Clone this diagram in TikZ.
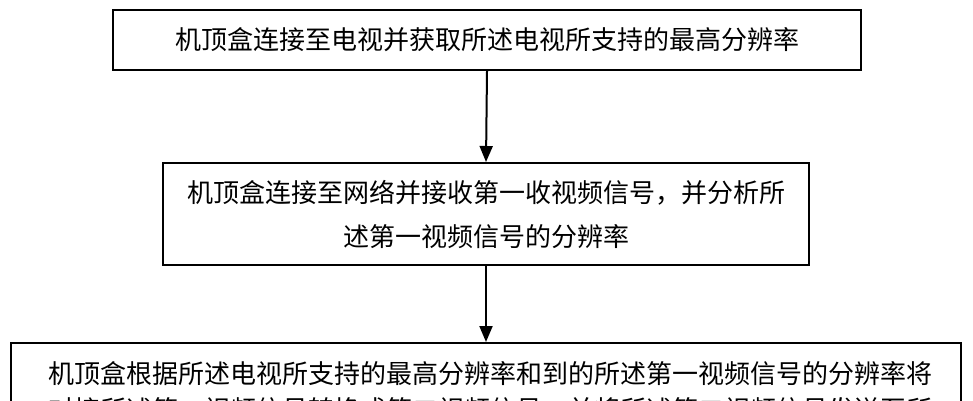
\documentclass[tikz,border=0pt]{standalone}
\usepackage{fontspec}
\newfontfamily\cjk{Noto Sans CJK SC}
\usetikzlibrary{arrows.meta}
\begin{document}
\begin{tikzpicture}[x=1pt,y=-1pt,
  box/.style={draw,line width=2pt,inner sep=0pt},
  txt/.style={font=\cjk\fontsize{26}{44}\selectfont,align=center,inner sep=0pt},
  arr/.style={line width=2pt,-{Triangle[length=16pt,width=13pt]}}]
\useasboundingbox (0,0) rectangle (973,400);
\begin{scope}
\clip (0,0) rectangle (973,400);
\node[box,minimum width=748pt,minimum height=60pt] (b1) at (487,40) {};
\node[txt] at (b1) {机顶盒连接至电视并获取所述电视所支持的最高分辨率};
\node[box,minimum width=646pt,minimum height=102pt] (b2) at (486,214) {};
\node[txt] at (b2) {机顶盒连接至网络并接收第一收视频信号，并分析所\\述第一视频信号的分辨率};
\node[box,minimum width=950pt,minimum height=120pt] (b3) at (486,403) {};
\node[txt,font=\cjk\fontsize{26}{36}\selectfont,anchor=north] at (490,361) {机顶盒根据所述电视所支持的最高分辨率和到的所述第一视频信号的分辨率将\\对接所述第一视频信号转换成第二视频信号，并将所述第二视频信号发送至所};
\draw[arr] (b1.south) -- (b2.north);
\draw[arr] (b2.south) -- (b2.south |- b3.north);
\end{scope}
\end{tikzpicture}
\end{document}
